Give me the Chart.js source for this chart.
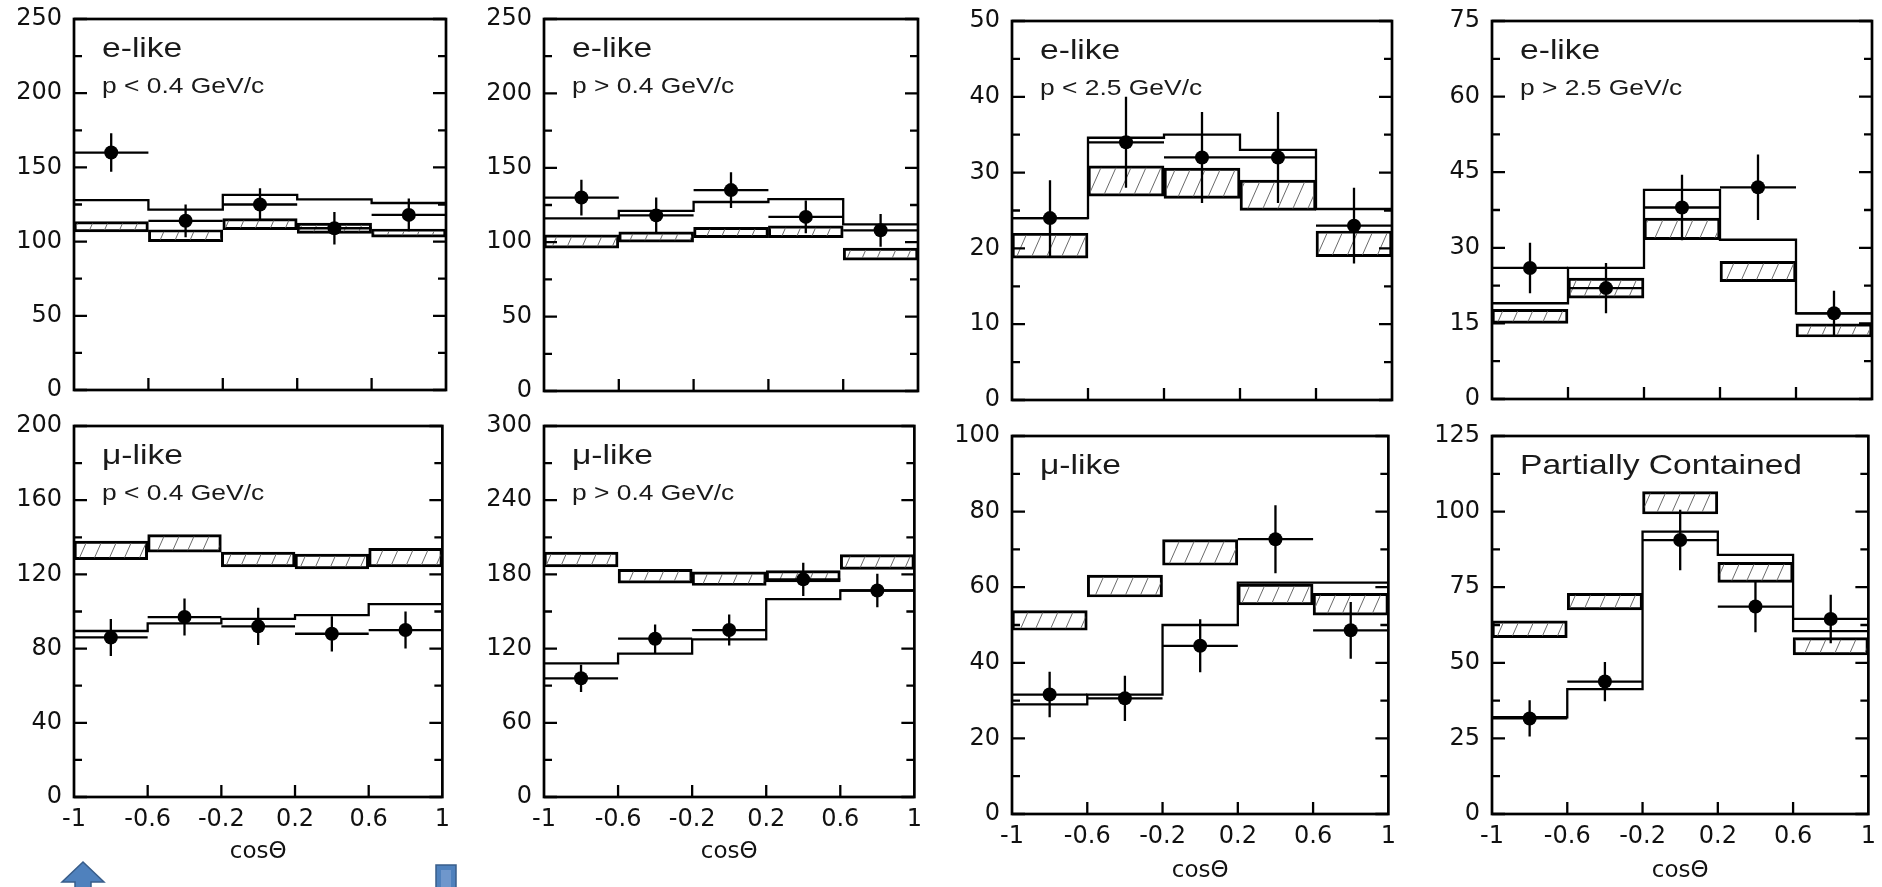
<!DOCTYPE html>
<html>
<head>
<meta charset="utf-8">
<script src="https://cdn.jsdelivr.net/npm/chart.js@4.4.1/dist/chart.umd.min.js"></script>
<style>
  html, body { margin: 0; padding: 0; background: #fff; }
  body { width: 1882px; height: 887px; position: relative; overflow: hidden; }
  canvas { position: absolute; }
  svg.deco { position: absolute; left: 0; top: 0; }
</style>
</head>
<body>
<svg class="deco" width="1882" height="887">
  <polygon points="83,862 62,882 75,882 75,890 91,890 91,882 104,882" fill="#4f81bd" stroke="#385d8a" stroke-width="1.5"/>
  <rect x="436" y="865" width="20" height="26" fill="#4f81bd" stroke="#385d8a" stroke-width="1.5"/>
  <rect x="441" y="870" width="10" height="20" fill="#6f97cc"/>
</svg>
<script>
// binning in cos(theta)
const binEdges = [-1, -0.6, -0.2, 0.2, 0.6, 1];
const binCenters = [-0.8, -0.4, 0, 0.4, 0.8];
const xTickLabels = ['-1', '-0.6', '-0.2', '0.2', '0.6', '1'];

// e-like, p < 0.4 GeV/c
const eLowData = [160, 114, 125, 109, 118];
const eLowErr = [13, 11, 11, 11, 11];
const eLowFit = [128, 121.5, 131.5, 128.5, 126];
const eLowBoxLo = [106.5, 100, 108, 105.5, 103];
const eLowBoxHi = [113.5, 108, 115.5, 112.5, 108.5];
const eLowTicks = [0, 50, 100, 150, 200, 250];

// e-like, p > 0.4 GeV/c
const eHighData = [130, 118, 135, 117, 108];
const eHighErr = [12, 12, 12, 11, 11];
const eHighFit = [116, 121, 127, 129, 112];
const eHighBoxLo = [96, 100, 103, 103, 88];
const eHighBoxHi = [105, 107, 110, 111, 96];
const eHighTicks = [0, 50, 100, 150, 200, 250];

// e-like multi-GeV, p < 2.5 GeV/c
const eMgLowData = [24, 34, 32, 32, 23];
const eMgLowErr = [5, 6, 6, 6, 5];
const eMgLowFit = [24, 34.6, 35, 33, 25.2];
const eMgLowBoxLo = [18.7, 26.9, 26.6, 25, 18.9];
const eMgLowBoxHi = [22, 30.9, 30.6, 29, 22.3];
const eMgLowTicks = [0, 10, 20, 30, 40, 50];

// e-like multi-GeV, p > 2.5 GeV/c
const eMgHighData = [26, 22, 38, 42, 17];
const eMgHighErr = [5, 5, 6.5, 6.5, 4.5];
const eMgHighFit = [19, 26, 41.5, 31.6, 17];
const eMgHighBoxLo = [15, 20, 31.6, 23.3, 12.3];
const eMgHighBoxHi = [17.8, 24, 35.9, 27.3, 14.9];
const eMgHighTicks = [0, 15, 30, 45, 60, 75];

// mu-like, p < 0.4 GeV/c
const muLowData = [86, 97, 92, 88, 90];
const muLowErr = [10, 10, 10, 9.5, 10];
const muLowFit = [89.5, 93.6, 96, 98, 104];
const muLowBoxLo = [128, 132, 124, 123, 124];
const muLowBoxHi = [138, 141.5, 132, 131, 134];
const muLowTicks = [0, 40, 80, 120, 160, 200];

// mu-like, p > 0.4 GeV/c
const muHighData = [96, 128, 135, 176, 167];
const muHighErr = [11, 11.5, 12.5, 13.5, 13.5];
const muHighFit = [108, 116, 127.5, 160, 167];
const muHighBoxLo = [186, 173, 171, 174, 184];
const muHighBoxHi = [198, 184, 182, 183, 196];
const muHighTicks = [0, 60, 120, 180, 240, 300];

// mu-like multi-GeV
const muMgData = [31.6, 30.6, 44.5, 72.7, 48.6];
const muMgErr = [6, 6, 7, 9, 7.5];
const muMgFit = [29, 31.6, 50, 61.2, 61.2];
const muMgBoxLo = [48.6, 57.4, 65.8, 55.3, 52.6];
const muMgBoxHi = [53.8, 63.2, 72.6, 60.8, 58.4];
const muMgTicks = [0, 20, 40, 60, 80, 100];

// partially contained
const pcData = [31.6, 43.8, 90.6, 68.6, 64.5];
const pcErr = [6, 6.5, 10, 8.5, 8];
const pcFit = [32, 41.3, 93.4, 85.7, 60.5];
const pcBoxLo = [58.3, 67.5, 99.2, 76.6, 52.6];
const pcBoxHi = [63.9, 73, 106.6, 83.2, 58.3];
const pcTicks = [0, 25, 50, 75, 100, 125];

const TICK_FONT = '"DejaVu Sans", "Liberation Sans", sans-serif';
// y tick labels need ~27px above/below the plot area (half line + padding)
const LEFT_AXIS = 74, TOP_PAD = 28, RIGHT_PAD = 12;

const panels = [
  { title: 'e-like', sub: 'p < 0.4 GeV/c', data: eLowData, err: eLowErr, fit: eLowFit, lo: eLowBoxLo, hi: eLowBoxHi, yTicks: eLowTicks,
    box: { left: 74, top: 19, w: 372, h: 371 }, bottom: false },
  { title: 'e-like', sub: 'p > 0.4 GeV/c', data: eHighData, err: eHighErr, fit: eHighFit, lo: eHighBoxLo, hi: eHighBoxHi, yTicks: eHighTicks,
    box: { left: 544, top: 19, w: 374, h: 372 }, bottom: false },
  { title: 'e-like', sub: 'p < 2.5 GeV/c', data: eMgLowData, err: eMgLowErr, fit: eMgLowFit, lo: eMgLowBoxLo, hi: eMgLowBoxHi, yTicks: eMgLowTicks,
    box: { left: 1012, top: 21, w: 380, h: 379 }, bottom: false },
  { title: 'e-like', sub: 'p > 2.5 GeV/c', data: eMgHighData, err: eMgHighErr, fit: eMgHighFit, lo: eMgHighBoxLo, hi: eMgHighBoxHi, yTicks: eMgHighTicks,
    box: { left: 1492, top: 21, w: 380, h: 378 }, bottom: false },
  { title: 'μ-like', sub: 'p < 0.4 GeV/c', data: muLowData, err: muLowErr, fit: muLowFit, lo: muLowBoxLo, hi: muLowBoxHi, yTicks: muLowTicks,
    box: { left: 74, top: 426, w: 372, h: 371 }, bottom: true, titlePad: 21 },
  { title: 'μ-like', sub: 'p > 0.4 GeV/c', data: muHighData, err: muHighErr, fit: muHighFit, lo: muHighBoxLo, hi: muHighBoxHi, yTicks: muHighTicks,
    box: { left: 544, top: 426, w: 374, h: 371 }, bottom: true, titlePad: 21 },
  { title: 'μ-like', sub: '', data: muMgData, err: muMgErr, fit: muMgFit, lo: muMgBoxLo, hi: muMgBoxHi, yTicks: muMgTicks,
    box: { left: 1012, top: 436, w: 380, h: 378 }, bottom: true, titlePad: 2 },
  { title: 'Partially Contained', sub: '', data: pcData, err: pcErr, fit: pcFit, lo: pcBoxLo, hi: pcBoxHi, yTicks: pcTicks,
    box: { left: 1492, top: 436, w: 380, h: 378 }, bottom: true, titlePad: 2 }
];

function hatchPattern() {
  const w = 15, h = 34;
  const c = document.createElement('canvas');
  c.width = w; c.height = h;
  const g = c.getContext('2d');
  g.strokeStyle = '#6a6a6a';
  g.lineWidth = 1;
  g.beginPath();
  for (const dx of [-w, 0, w]) {
    g.moveTo(dx, h);
    g.lineTo(dx + w, 0);
  }
  g.stroke();
  return g.createPattern(c, 'repeat');
}

// error bars, inward ticks, frame and panel labels
const panelDecor = {
  id: 'panelDecor',
  afterDatasetsDraw(chart, args, o) {
    const { ctx, chartArea: a } = chart;
    const x = chart.scales.x, y = chart.scales.y;
    ctx.save();
    ctx.strokeStyle = '#000';
    ctx.lineWidth = 2.3;
    o.values.forEach((v, i) => {
      const px = x.getPixelForValue(binCenters[i]);
      const py = y.getPixelForValue(v);
      ctx.beginPath();
      ctx.moveTo(x.getPixelForValue(binEdges[i]), py);
      ctx.lineTo(x.getPixelForValue(binEdges[i + 1]), py);
      ctx.moveTo(px, y.getPixelForValue(v - o.errs[i]));
      ctx.lineTo(px, y.getPixelForValue(v + o.errs[i]));
      ctx.stroke();
    });

    const yt = o.yTicks;
    const half = (yt[1] - yt[0]) / 2;
    for (let k = 0; k <= (yt.length - 1) * 2; k++) {
      const py = y.getPixelForValue(yt[0] + k * half);
      const len = k % 2 === 0 ? 13 : 8;
      ctx.beginPath();
      ctx.moveTo(a.left, py); ctx.lineTo(a.left + len, py);
      ctx.moveTo(a.right, py); ctx.lineTo(a.right - len, py);
      ctx.stroke();
    }
    binEdges.slice(1, -1).forEach(e => {
      const px = x.getPixelForValue(e);
      ctx.beginPath();
      ctx.moveTo(px, a.bottom);
      ctx.lineTo(px, a.bottom - 12);
      ctx.stroke();
    });

    ctx.lineWidth = 2.7;
    ctx.strokeRect(a.left, a.top, a.right - a.left, a.bottom - a.top);

    ctx.fillStyle = '#1a1a1a';
    ctx.textBaseline = 'alphabetic';
    const stretched = (text, size, dx, dy) => {
      ctx.save();
      ctx.translate(a.left + dx, a.top + dy);
      ctx.scale(1.2, 1);
      ctx.font = size + 'px "Liberation Sans", Arial, sans-serif';
      ctx.fillText(text, 0, 0);
      ctx.restore();
    };
    stretched(o.title, 28, 28, 38);
    if (o.sub) stretched(o.sub, 22, 28, 74);
    ctx.restore();
  }
};

function makePanel(p) {
  const b = p.box;
  const axisH = p.bottom ? 887 - (b.top + b.h) : 28;
  const canvas = document.createElement('canvas');
  canvas.width = LEFT_AXIS + b.w + RIGHT_PAD;
  canvas.height = TOP_PAD + b.h + axisH;
  canvas.style.left = (b.left - LEFT_AXIS) + 'px';
  canvas.style.top = (b.top - TOP_PAD) + 'px';
  document.body.appendChild(canvas);

  new Chart(canvas.getContext('2d'), {
    type: 'line',
    data: {
      datasets: [
        {
          type: 'scatter',
          data: binCenters.map((c, i) => ({ x: c, y: p.data[i] })),
          showLine: false,
          pointRadius: 7,
          pointBackgroundColor: '#000',
          pointBorderWidth: 0
        },
        {
          type: 'line',
          data: binEdges.map((e, i) => ({ x: e, y: p.fit[Math.min(i, p.fit.length - 1)] })),
          stepped: true,
          borderColor: '#000',
          borderWidth: 2.3,
          pointRadius: 0,
          fill: false
        },
        {
          type: 'bar',
          data: binCenters.map((c, i) => ({ x: c, y: [p.lo[i], p.hi[i]] })),
          backgroundColor: hatchPattern(),
          borderColor: '#000',
          borderWidth: 2.3,
          borderSkipped: false,
          barPercentage: 1,
          categoryPercentage: 1
        }
      ]
    },
    options: {
      responsive: false,
      animation: false,
      events: [],
      layout: { padding: { top: TOP_PAD, right: RIGHT_PAD, left: 0, bottom: 0 } },
      plugins: {
        legend: { display: false },
        tooltip: { enabled: false },
        panelDecor: { values: p.data, errs: p.err, yTicks: p.yTicks, title: p.title, sub: p.sub }
      },
      scales: {
        x: {
          type: 'linear',
          min: -1, max: 1,
          offset: false,
          grid: { display: false, drawTicks: false },
          border: { display: false },
          afterBuildTicks: s => { s.ticks = binEdges.map(v => ({ value: v })); },
          ticks: {
            display: p.bottom,
            autoSkip: false,
            maxRotation: 0,
            padding: 8,
            color: '#111',
            font: { family: TICK_FONT, size: 24 },
            callback: (v, i) => xTickLabels[i]
          },
          title: {
            display: p.bottom,
            text: 'cosΘ',
            color: '#111',
            font: { family: TICK_FONT, size: 23 },
            padding: { top: 0, bottom: p.titlePad || 0 }
          },
          afterFit: s => { s.height = axisH; }
        },
        y: {
          type: 'linear',
          min: p.yTicks[0], max: p.yTicks[p.yTicks.length - 1],
          grid: { display: false, drawTicks: false },
          border: { display: false },
          afterBuildTicks: s => { s.ticks = p.yTicks.map(v => ({ value: v })); },
          ticks: {
            padding: 12,
            color: '#111',
            font: { family: TICK_FONT, size: 24 },
            callback: v => String(v)
          },
          afterFit: s => { s.width = LEFT_AXIS; }
        }
      }
    },
    plugins: [panelDecor]
  });
}

panels.forEach(makePanel);
</script>
</body>
</html>
